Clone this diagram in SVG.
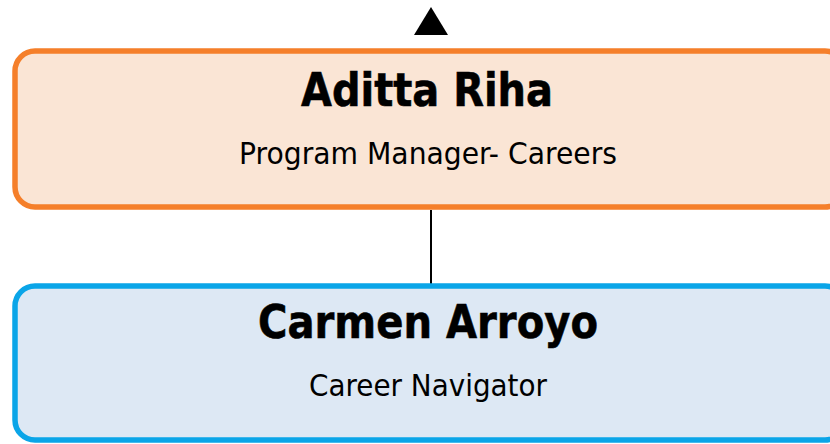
<svg xmlns="http://www.w3.org/2000/svg" width="830" height="444" viewBox="0 0 830 444">
<style>
.name{font-family:"DejaVu Sans","Liberation Sans",sans-serif;font-weight:bold;font-size:46px;fill:#000;stroke:#000;stroke-width:0.6;text-anchor:middle}
.role{font-family:"DejaVu Sans","Liberation Sans",sans-serif;font-size:30px;fill:#000;text-anchor:middle}
.orange{fill:#FAE5D5;stroke:#F57F2A;stroke-width:5.5}
.blue{fill:#DDE8F4;stroke:#0AA5E8;stroke-width:5.5}
</style>
<rect width="830" height="444" fill="#fff"/>
<g id="connectors">
<line x1="431" y1="210" x2="431" y2="284" stroke="#000" stroke-width="2"/>
<polygon points="431,7 414,35 448,35" fill="#000"/>
</g>
<g id="node-aditta">
<rect class="orange" x="15" y="51" width="830" height="156" rx="20"/>
<text class="name" x="427" y="106" textLength="252" lengthAdjust="spacingAndGlyphs">Aditta Riha</text>
<text class="role" x="428" y="164" textLength="378" lengthAdjust="spacingAndGlyphs">Program Manager- Careers</text>
</g>
<g id="node-carmen">
<rect class="blue" x="15" y="286" width="830" height="154" rx="20"/>
<text class="name" x="428" y="338" textLength="340" lengthAdjust="spacingAndGlyphs">Carmen Arroyo</text>
<text class="role" x="428" y="396" textLength="238" lengthAdjust="spacingAndGlyphs">Career Navigator</text>
</g>
</svg>
